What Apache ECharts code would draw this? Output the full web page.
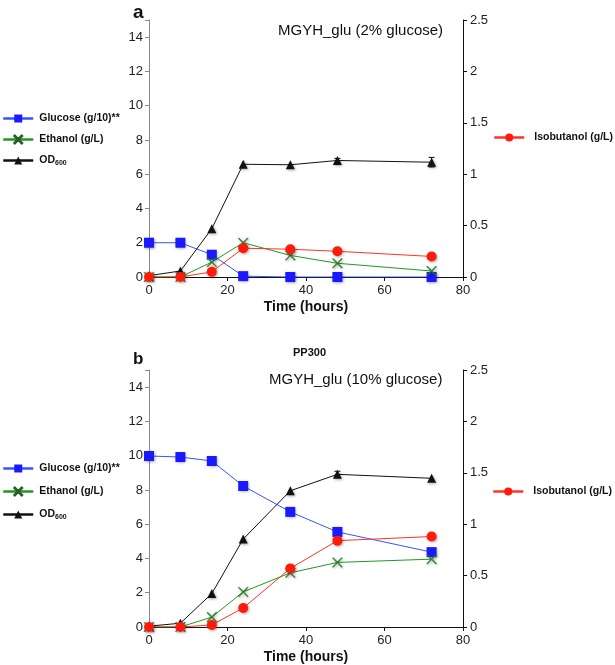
<!DOCTYPE html>
<html>
<head>
<meta charset="utf-8">
<script src="https://cdn.jsdelivr.net/npm/echarts@6/dist/echarts.min.js"></script>
<style>
  html, body { margin: 0; padding: 0; background: #fff; }
  #main { width: 615px; height: 665px; }
</style>
</head>
<body>
<div id="main"></div>
<script>
// sampling times (hours)
const hours = [0, 8, 16, 24, 36, 48, 72];

// panel a: MGYH_glu (2% glucose) -- left axis units
const glucoseA = [2.0, 2.0, 1.3, 0.05, 0.0, 0.0, 0.0];
const ethanolA = [0.0, 0.0, 0.87, 2.0, 1.26, 0.8, 0.35];
const odA = [0.08, 0.35, 2.82, 6.58, 6.55, 6.8, 6.7];
const odErrA = [0, 0, 0, 0, 0, 0.12, 0.28];
// isobutanol on right axis (g/L)
const isobutanolA = [0.0, 0.0, 0.05, 0.28, 0.27, 0.25, 0.2];

// panel b: MGYH_glu (10% glucose)
const glucoseB = [9.98, 9.92, 9.69, 8.23, 6.72, 5.55, 4.37];
const ethanolB = [0.0, 0.0, 0.58, 2.05, 3.16, 3.77, 3.96];
const odB = [0.05, 0.22, 1.95, 5.13, 7.95, 8.91, 8.68];
const odErrB = [0, 0, 0, 0, 0, 0.18, 0];
const isobutanolB = [0.0, 0.0, 0.02, 0.185, 0.57, 0.84, 0.88];

const leftTicks = [0, 2, 4, 6, 8, 10, 12, 14];
const rightTicks = [0, 0.5, 1, 1.5, 2, 2.5];

const FONT = '"Liberation Sans", Arial, sans-serif';
// thin "x" marker
const crossPath = 'path://M0,0.7L0.7,0L5,4.3L9.3,0L10,0.7L5.7,5L10,9.3L9.3,10L5,5.7L0.7,10L0,9.3L4.3,5Z';

const pts = (vals) => hours.map((h, i) => [h, vals[i]]);

var myChart = echarts.init(document.getElementById('main'), null, { renderer: 'canvas' });

function xAxisFor(grid) {
  return {
    type: 'value', gridIndex: grid, min: 0, max: 80, interval: 20,
    name: 'Time (hours)', nameLocation: 'middle', nameGap: 23,
    nameTextStyle: { fontFamily: FONT, fontSize: 14, fontWeight: 'bold', color: '#111' },
    axisLine: { lineStyle: { color: '#111', width: 1 } },
    axisTick: { length: 4, lineStyle: { color: '#111' } },
    axisLabel: { fontFamily: FONT, fontSize: 13, color: '#222', margin: 7 },
    splitLine: { show: false }
  };
}

function leftAxisFor(grid) {
  return {
    type: 'value', gridIndex: grid, position: 'left', min: 0, max: 15, interval: 2,
    axisLine: { show: true, lineStyle: { color: '#888', width: 1 } },
    axisTick: { show: true, length: 4, lineStyle: { color: '#888' } },
    axisLabel: {
      fontFamily: FONT, fontSize: 13, color: '#222', margin: 6,
      formatter: (v) => (leftTicks.indexOf(v) >= 0 ? String(v) : '')
    },
    splitLine: { show: false }
  };
}

function rightAxisFor(grid) {
  return {
    type: 'value', gridIndex: grid, position: 'right', min: 0, max: 2.5, interval: 0.5,
    axisLine: { show: true, lineStyle: { color: '#111', width: 1 } },
    axisTick: { show: true, length: 4, lineStyle: { color: '#111' } },
    axisLabel: {
      fontFamily: FONT, fontSize: 13, color: '#222', margin: 7,
      formatter: (v) => (rightTicks.indexOf(v) >= 0 ? String(v) : '')
    },
    splitLine: { show: false }
  };
}

const shadow = { shadowColor: 'rgba(0,0,0,0.35)', shadowBlur: 3, shadowOffsetX: 1, shadowOffsetY: 1 };

function panelSeries(grid, glu, eth, od, odErr, iso) {
  const yl = grid * 2, yr = grid * 2 + 1;
  return [
    {
      name: 'Glucose (g/10)**', type: 'line', xAxisIndex: grid, yAxisIndex: yl,
      data: pts(glu), symbol: 'rect', symbolSize: 10,
      lineStyle: { color: '#3355ff', width: 1 },
      itemStyle: Object.assign({ color: '#1a1aff' }, shadow)
    },
    {
      name: 'Ethanol (g/L)', type: 'line', xAxisIndex: grid, yAxisIndex: yl,
      data: pts(eth), symbol: crossPath, symbolSize: 10,
      lineStyle: { color: '#1f9a1f', width: 1 },
      itemStyle: Object.assign({ color: '#1f9a1f', borderColor: '#2b5d2b', borderWidth: 0.4 }, shadow)
    },
    {
      name: 'OD600', type: 'line', xAxisIndex: grid, yAxisIndex: yl,
      data: pts(od), symbol: 'triangle', symbolSize: 9,
      lineStyle: { color: '#111', width: 1 },
      itemStyle: Object.assign({ color: '#111' }, shadow)
    },
    {
      name: 'OD err', type: 'custom', xAxisIndex: grid, yAxisIndex: yl,
      data: hours.map((h, i) => [h, od[i], odErr[i]]),
      encode: { x: 0, y: 1 },
      renderItem: function (params, api) {
        const x = api.value(0), y = api.value(1), e = api.value(2);
        if (!e) return;
        const hi = api.coord([x, y + e]);
        const lo = api.coord([x, y - e]);
        const st = { stroke: '#111', lineWidth: 1 };
        return {
          type: 'group',
          children: [
            { type: 'line', shape: { x1: hi[0], y1: hi[1], x2: lo[0], y2: lo[1] }, style: st },
            { type: 'line', shape: { x1: hi[0] - 3, y1: hi[1], x2: hi[0] + 3, y2: hi[1] }, style: st },
            { type: 'line', shape: { x1: lo[0] - 3, y1: lo[1], x2: lo[0] + 3, y2: lo[1] }, style: st }
          ]
        };
      },
      z: 1
    },
    {
      name: 'Isobutanol (g/L)', type: 'line', xAxisIndex: grid, yAxisIndex: yr,
      data: pts(iso), symbol: 'circle', symbolSize: 10,
      lineStyle: { color: '#ff3322', width: 1 },
      itemStyle: Object.assign({ color: '#ff1a0a' }, shadow)
    }
  ];
}

function legendAt(names, left, top, gap, textPad) {
  return {
    orient: 'vertical', left: left, top: top, itemGap: gap, padding: 0,
    itemWidth: 30, itemHeight: 10,
    data: names,
    lineStyle: { width: 2.5 },
    formatter: (n) => (n === 'OD600' ? 'OD{s|600}' : n),
    textStyle: {
      fontFamily: FONT, fontSize: 10.5, fontWeight: 'bold', color: '#111',
      padding: [0, 0, 0, textPad],
      rich: { s: { fontFamily: FONT, fontSize: 7, fontWeight: 'bold', color: '#111', padding: [6, 0, 0, 0] } }
    }
  };
}

const leftNames = ['Glucose (g/10)**', 'Ethanol (g/L)', 'OD600'];
const rightNames = ['Isobutanol (g/L)'];

const titleText = (text, left, top, size, weight) => ({
  text: text, left: left, top: top, padding: 0,
  textStyle: { fontFamily: FONT, fontSize: size, fontWeight: weight, color: '#111' }
});

var option = {
  animation: false,
  title: [
    titleText('a', 133, 3, 19, 'bold'),
    titleText('MGYH_glu (2% glucose)', 278, 23, 15, 'normal'),
    titleText('b', 133, 351, 17, 'bold'),
    titleText('PP300', 293, 347, 11, 'bold'),
    titleText('MGYH_glu (10% glucose)', 269, 372, 15, 'normal')
  ],
  legend: [
    legendAt(leftNames, 2, 113, 10, 1),
    legendAt(rightNames, 493, 132, 8, 5),
    legendAt(leftNames, 2, 463, 12, 1),
    legendAt(rightNames, 492, 486, 8, 5)
  ],
  grid: [
    { left: 149, top: 20, width: 314, height: 257 },
    { left: 149, top: 370, width: 314, height: 257 }
  ],
  xAxis: [xAxisFor(0), xAxisFor(1)],
  yAxis: [leftAxisFor(0), rightAxisFor(0), leftAxisFor(1), rightAxisFor(1)],
  series: panelSeries(0, glucoseA, ethanolA, odA, odErrA, isobutanolA)
    .concat(panelSeries(1, glucoseB, ethanolB, odB, odErrB, isobutanolB))
};

myChart.setOption(option);
</script>
</body>
</html>
